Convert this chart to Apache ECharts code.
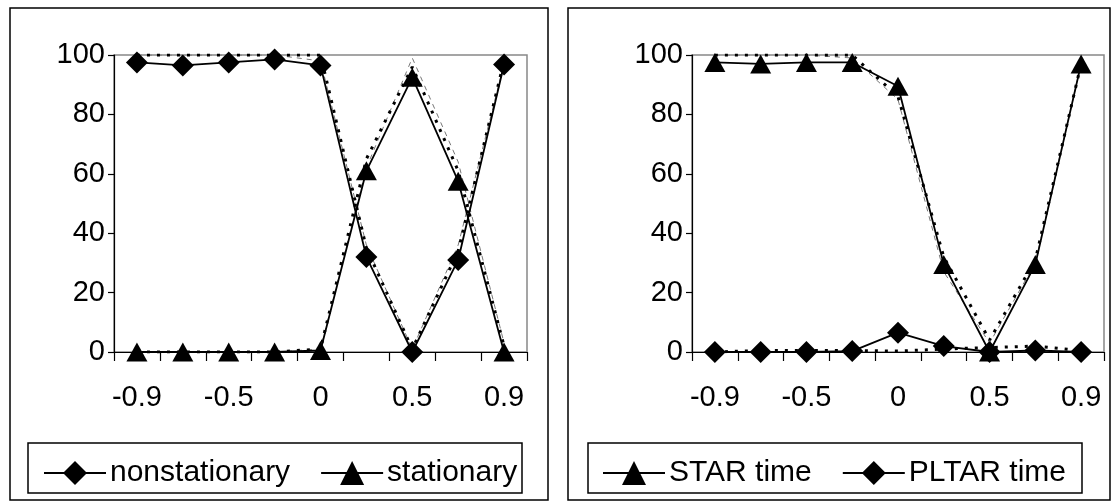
<!DOCTYPE html>
<html>
<head>
<meta charset="utf-8">
<script src="https://cdn.jsdelivr.net/npm/echarts@6/dist/echarts.min.js"></script>
<style>
html,body{margin:0;padding:0;background:#fff;}
#c{width:1118px;height:503px;}
</style>
</head>
<body>
<div id="c"></div>
<script>
// ---- data ----
const categories = ['-0.9', '-0.7', '-0.5', '-0.3', '0', '0.3', '0.5', '0.7', '0.9'];
const yTicks = [0, 20, 40, 60, 80, 100];

// left panel
const nonstationary = [97.5, 96.5, 97.5, 98.5, 96.5, 32, 0, 31, 96.8];
const stationary = [0, 0, 0, 0, 0.5, 61, 92.5, 57.5, 0];
const nonstationaryDotted = [100, 100, 100, 100, 100, 35, 1, 34, 98];
const stationaryDotted = [0, 0, 0, 0, 1, 65, 96, 61, 2];
const nonstationaryDashed = [100, 100, 100, 100, 98, 36, 1, 36, 97];
const stationaryDashed = [0, 0, 0, 0, 1, 62, 99, 64, 3];

// right panel
const starTime = [97.5, 97, 97.5, 97.5, 89.5, 29.5, 0, 29.5, 97];
const pltarTime = [0, 0, 0, 0.3, 6.5, 2, 0, 0.5, 0];
const starDotted = [100, 100, 100, 100, 86, 32, 4, 31, 97];
const starDashed = [100, 100, 100, 99, 85, 27, 3, 30, 97];
const pltarDotted = [0, 0.5, 0.5, 0.5, 0.3, 1, 1.5, 2, 0.5];

const FONT = "'Liberation Sans', Arial, sans-serif";
const FS = 29;
const LFS = 30;

function xAxis(gi) {
  return {
    type: 'category', gridIndex: gi, data: categories, boundaryGap: true,
    axisLine: { show: true, onZero: false, lineStyle: { color: '#000', width: 1.2 } },
    axisTick: { show: true, interval: 0, length: 9, lineStyle: { color: '#000', width: 1.2 } },
    axisLabel: { interval: 1, margin: 31, color: '#000', fontSize: FS, fontFamily: FONT },
    splitLine: { show: false }
  };
}
function yAxis(gi) {
  return {
    type: 'value', gridIndex: gi, min: 0, max: 100, interval: 20,
    axisLine: { show: true, lineStyle: { color: '#000', width: 1.2 } },
    axisTick: { show: true, length: 6, lineStyle: { color: '#000', width: 1.2 } },
    axisLabel: { margin: 9, color: '#000', fontSize: FS, fontFamily: FONT,
      formatter: v => yTicks.includes(v) ? String(v) : '' },
    splitLine: { show: false }
  };
}
function extra(name, data, gi, kind) {
  const ls = kind === 'dot'
    ? { color: '#000', width: 3, type: [3, 7] }
    : { color: '#777', width: 1, type: [5, 5] };
  return { name, type: 'line', xAxisIndex: gi, yAxisIndex: gi, data,
    showSymbol: false, symbol: 'none', lineStyle: ls, silent: true, z: 1 };
}
function main(name, data, gi, sym) {
  const size = sym === 'diamond' ? [22, 22] : [21, 19];
  return { name, type: 'line', xAxisIndex: gi, yAxisIndex: gi, data,
    symbol: sym, symbolSize: size, showAllSymbol: true,
    itemStyle: { color: '#000', borderWidth: 0 },
    lineStyle: { color: '#000', width: 1.8 }, z: 3 };
}

const legendCommon = {
  itemWidth: 62, itemHeight: 30, itemGap: 30, selectedMode: false,
  textStyle: { fontSize: LFS, fontFamily: FONT, color: '#000', padding: [0, 0, 0, -1] }
};

const chart = echarts.init(document.getElementById('c'), null, { renderer: 'canvas' });
chart.setOption({
  backgroundColor: '#fff',
  animation: false,
  grid: [
    { left: 114, top: 55, right: 1118 - 527, bottom: 503 - 352, show: true, borderColor: '#888', borderWidth: 1.5 },
    { left: 692, top: 55, right: 1118 - 1104, bottom: 503 - 352, show: true, borderColor: '#888', borderWidth: 1.5 }
  ],
  xAxis: [xAxis(0), xAxis(1)],
  yAxis: [yAxis(0), yAxis(1)],
  legend: [
    Object.assign({ data: ['nonstationary', 'stationary'], left: 38, top: 453 }, legendCommon),
    Object.assign({ data: ['STAR time', 'PLTAR time'], left: 597, top: 453 }, legendCommon)
  ],
  graphic: [
    { type: 'rect', shape: { x: 10, y: 8, width: 538, height: 492 }, style: { fill: 'none', stroke: '#000', lineWidth: 1.5 }, silent: true },
    { type: 'rect', shape: { x: 568, y: 8, width: 542, height: 492 }, style: { fill: 'none', stroke: '#000', lineWidth: 1.5 }, silent: true },
    { type: 'rect', shape: { x: 28, y: 443, width: 494, height: 50 }, style: { fill: 'none', stroke: '#000', lineWidth: 1.5 }, silent: true },
    { type: 'rect', shape: { x: 588, y: 443, width: 494, height: 50 }, style: { fill: 'none', stroke: '#000', lineWidth: 1.5 }, silent: true }
  ],
  series: [
    extra('nsDash', nonstationaryDashed, 0, 'dash'),
    extra('sDash', stationaryDashed, 0, 'dash'),
    extra('nsDot', nonstationaryDotted, 0, 'dot'),
    extra('sDot', stationaryDotted, 0, 'dot'),
    main('nonstationary', nonstationary, 0, 'diamond'),
    main('stationary', stationary, 0, 'triangle'),
    extra('starDash', starDashed, 1, 'dash'),
    extra('starDot', starDotted, 1, 'dot'),
    extra('pltarDot', pltarDotted, 1, 'dot'),
    main('STAR time', starTime, 1, 'triangle'),
    main('PLTAR time', pltarTime, 1, 'diamond')
  ]
});
</script>
</body>
</html>
